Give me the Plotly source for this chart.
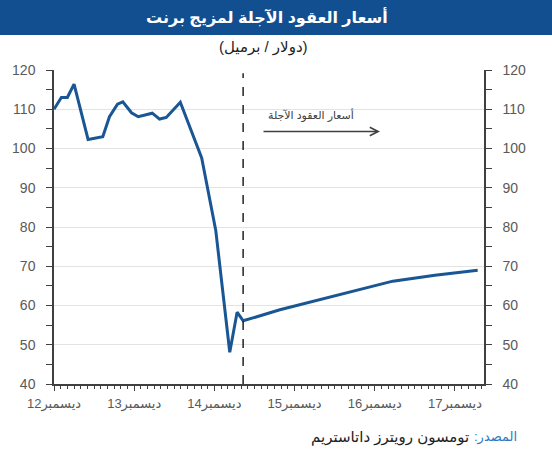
import plotly.graph_objects as go

# ---- data (months since Dec 2012, USD/barrel) ----
hist_month = [0, 1.1, 2.0, 3.0, 5.1, 7.3, 8.3, 9.5, 10.3, 11.6, 12.6, 14.7, 15.8, 16.8, 18.9, 22.1, 24.2, 26.3, 27.4, 28.3]
hist_price = [110.0, 113.0, 113.0, 116.4, 102.3, 103.0, 108.1, 111.3, 111.9, 109.1, 108.1, 109.0, 107.5, 107.9, 111.8, 97.6, 79.2, 48.1, 58.3, 56.1]
fwd_month = [28.3, 33.8, 39.5, 45.0, 50.7, 57.0, 63.4]
fwd_price = [56.1, 58.9, 61.4, 63.8, 66.2, 67.7, 69.0]
split_month = 28.3

tick_months = [0, 12, 24, 36, 48, 60]
tick_labels = ["ديسمبر12", "ديسمبر13", "ديسمبر14", "ديسمبر15", "ديسمبر16", "ديسمبر17"]

title_text = "أسعار العقود الآجلة لمزيج برنت"
subtitle_text = "(دولار / برميل)"
arrow_text = "أسعار العقود الآجلة"
source_label = "المصدر:"
source_text = "تومسون رويترز داتاستريم"

RLE, PDF, RLM = "\u202b", "\u202c", "\u200f"
def rtl(s):
    return RLE + s + PDF

LINE = "#1a5694"
AX = "#404040"
TXT = "#595959"
FONT = "Liberation Sans, Arial, DejaVu Sans, sans-serif"

fig = go.Figure()
fig.add_trace(go.Scatter(x=hist_month + fwd_month[1:], y=hist_price + fwd_price[1:],
                         mode="lines", line=dict(color=LINE, width=3),
                         showlegend=False, hoverinfo="skip"))
fig.add_trace(go.Scatter(x=fwd_month, y=fwd_price, mode="lines", yaxis="y2",
                         line=dict(color=LINE, width=0), opacity=0,
                         showlegend=False, hoverinfo="skip"))

W, H = 552, 450
L, R, T, B = 54, 68, 70, 66
pw, ph = W - L - R, H - T - B

def px_x(p):
    return (p - L) / pw
def px_y(p):
    return (H - B - p) / ph

yax = dict(range=[40, 120], dtick=10, tick0=40, showgrid=True, gridcolor="#e3e3e3", gridwidth=1,
           showline=True, linecolor=AX, linewidth=1.5, ticks="outside", ticklen=6,
           tickcolor=AX, tickwidth=1.2, tickfont=dict(family=FONT, size=14, color=TXT),
           minor=dict(dtick=5, tick0=40, ticks="outside", ticklen=6, tickcolor=AX, showgrid=False),
           zeroline=False, fixedrange=True, ticklabelstandoff=8)

fig.update_layout(
    width=W, height=H, margin=dict(l=L, r=R, t=T, b=B),
    paper_bgcolor="white", plot_bgcolor="white",
    xaxis=dict(range=[0, (W - L - R) / 6.683], tickmode="array", tickvals=tick_months,
               ticktext=tick_labels, showgrid=False, showline=True, linecolor=AX, linewidth=1.5,
               ticks="outside", ticklen=5, tickcolor=AX, tickwidth=1.2,
               tickfont=dict(family=FONT, size=13, color=TXT),
               minor=dict(dtick=1, tick0=0, ticks="outside", ticklen=3, tickcolor=AX, showgrid=False),
               zeroline=False, fixedrange=True, ticklabelstandoff=2),
    yaxis=yax,
    yaxis2=dict(yax, overlaying="y", side="right", showgrid=False),
    shapes=[
        dict(type="rect", xref="paper", yref="paper", x0=px_x(0), x1=px_x(W), y0=px_y(35), y1=px_y(0),
             fillcolor="#124f91", line=dict(width=0), layer="above"),
        dict(type="line", xref="x", yref="paper", x0=split_month, x1=split_month, y0=0, y1=0.99,
             line=dict(color="#222222", width=1.5, dash="dash")),
    ],
    annotations=[
        dict(text="<b>" + rtl(title_text) + "</b>", xref="paper", yref="paper", x=px_x(267), y=px_y(17.5),
             showarrow=False, font=dict(family=FONT, size=16, color="white"),
             xanchor="center", yanchor="middle"),
        dict(text=rtl(subtitle_text), xref="paper", yref="paper", x=px_x(263), y=px_y(47),
             showarrow=False, font=dict(family=FONT, size=15, color="#222222"),
             xanchor="center", yanchor="middle"),
        dict(text=rtl(arrow_text), xref="paper", yref="paper", x=px_x(311), y=px_y(115),
             showarrow=False, font=dict(family=FONT, size=11, color="#404040"),
             xanchor="center", yanchor="middle"),
        dict(text="", xref="paper", yref="paper", x=px_x(380), y=px_y(131.5),
             ax=-118, ay=0, showarrow=True, arrowhead=5, arrowsize=1.1, arrowwidth=1.5,
             arrowcolor="#404040"),
        dict(text=source_label + RLM, xref="paper", yref="paper", x=px_x(495), y=px_y(437),
             showarrow=False, font=dict(family=FONT, size=13, color="#2f78c4"),
             xanchor="center", yanchor="middle"),
        dict(text=source_text, xref="paper", yref="paper", x=px_x(390), y=px_y(437),
             showarrow=False, font=dict(family=FONT, size=15, color="#222222"),
             xanchor="center", yanchor="middle"),
    ],
)

fig.write_html("out.html")
